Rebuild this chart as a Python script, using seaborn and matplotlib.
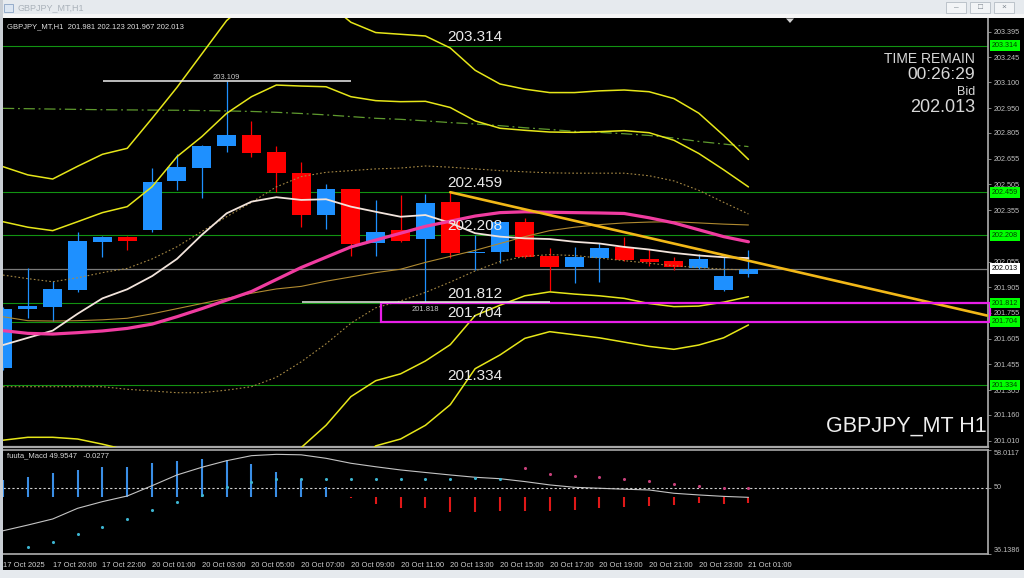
import numpy as np
import pandas as pd
import seaborn as sns
import matplotlib.pyplot as plt
import matplotlib.transforms as mtrans
from matplotlib.patches import Rectangle, Polygon

# ---- values, 17 Oct 18:00 .. 21 Oct 01:00 ----
opens = [201.432, 201.776, 201.788, 201.887, 202.169, 202.198, 202.239, 202.524, 202.602, 202.729,
         202.791, 202.695, 202.569, 202.328, 202.478, 202.163, 202.236, 202.185, 202.404, 202.105,
         202.112, 202.287, 202.087, 202.021, 202.077, 202.138, 202.069, 202.058, 202.019, 201.889, 201.981]
highs = [201.790, 202.015, 201.943, 202.225, 202.205, 202.205, 202.598, 202.682, 202.735, 203.109,
         202.874, 202.729, 202.637, 202.507, 202.480, 202.414, 202.443, 202.450, 202.459, 202.210,
         202.290, 202.307, 202.132, 202.138, 202.160, 202.196, 202.126, 202.083, 202.097, 202.083, 202.123]
lows = [201.420, 201.724, 201.710, 201.876, 202.083, 202.122, 202.229, 202.472, 202.427, 202.695,
        202.666, 202.462, 202.258, 202.243, 202.087, 202.087, 202.170, 201.818, 202.074, 202.005,
        202.045, 202.078, 201.885, 201.931, 201.937, 202.060, 202.029, 202.005, 202.010, 201.885, 201.967]
closes = [201.776, 201.795, 201.893, 202.173, 202.200, 202.172, 202.519, 202.604, 202.730, 202.791,
          202.689, 202.569, 202.328, 202.478, 202.157, 202.227, 202.177, 202.398, 202.103, 202.110,
          202.283, 202.083, 202.021, 202.083, 202.136, 202.064, 202.052, 202.021, 202.069, 201.971, 202.013]

ma_white = [201.568, 201.610, 201.652, 201.750, 201.840, 201.893, 201.970, 202.070, 202.210, 202.336,
            202.404, 202.430, 202.414, 202.418, 202.375, 202.345, 202.316, 202.326, 202.280, 202.220,
            202.200, 202.190, 202.186, 202.170, 202.160, 202.140, 202.125, 202.105, 202.090, 202.080, 202.075]
ma_pink = [201.652, 201.636, 201.632, 201.640, 201.650, 201.665, 201.690, 201.733, 201.780, 201.830,
           201.880, 201.950, 202.020, 202.080, 202.140, 202.180, 202.220, 202.260, 202.290, 202.320,
           202.340, 202.345, 202.342, 202.340, 202.338, 202.335, 202.310, 202.280, 202.240, 202.200, 202.170]
ma_tan = [201.733, 201.710, 201.708, 201.710, 201.715, 201.724, 201.750, 201.780, 201.810, 201.840,
          201.870, 201.895, 201.910, 201.940, 201.965, 201.990, 202.010, 202.050, 202.085, 202.120,
          202.160, 202.200, 202.235, 202.255, 202.270, 202.280, 202.285, 202.287, 202.280, 202.273, 202.268]
band_up1 = [201.976, 201.955, 201.937, 201.960, 201.990, 202.015, 202.070, 202.141, 202.230, 202.316,
            202.400, 202.490, 202.550, 202.575, 202.585, 202.595, 202.600, 202.612, 202.605, 202.595,
            202.585, 202.578, 202.572, 202.570, 202.570, 202.570, 202.555, 202.525, 202.470, 202.400, 202.332]
band_dn1 = [201.325, 201.325, 201.325, 201.325, 201.325, 201.310, 201.300, 201.290, 201.290, 201.305,
            201.325, 201.380, 201.470, 201.575, 201.695, 201.785, 201.825, 201.875, 201.935, 202.000,
            202.055, 202.085, 202.095, 202.090, 202.075, 202.060, 202.045, 202.030, 202.020, 202.010, 202.006]
band_up2 = [202.287, 202.255, 202.235, 202.287, 202.340, 202.375, 202.491, 202.666, 202.783, 202.919,
            203.016, 203.084, 203.078, 203.074, 203.016, 202.993, 202.987, 202.989, 202.953, 202.875,
            202.832, 202.820, 202.810, 202.808, 202.812, 202.818, 202.806, 202.762, 202.685, 202.590, 202.490]
band_dn2 = [201.013, 201.030, 201.030, 201.020, 200.990, 200.955, 200.890, 200.800, 200.780, 200.740,
            200.745, 200.820, 200.970, 201.100, 201.267, 201.360, 201.400, 201.475, 201.570, 201.740,
            201.800, 201.855, 201.878, 201.865, 201.855, 201.840, 201.810, 201.792, 201.795, 201.818, 201.850]
band_up3 = [202.608, 202.560, 202.536, 202.610, 202.680, 202.715, 202.890, 203.070, 203.265, 203.460,
            203.584, 203.650, 203.600, 203.570, 203.450, 203.390, 203.380, 203.370, 203.300, 203.170,
            203.090, 203.060, 203.040, 203.040, 203.050, 203.055, 203.045, 203.005, 202.920, 202.790, 202.650]
band_dn3 = [200.680, 200.720, 200.740, 200.670, 200.620, 200.600, 200.490, 200.330, 200.280, 200.200,
            200.180, 200.250, 200.440, 200.590, 200.830, 200.980, 201.020, 201.100, 201.220, 201.430,
            201.510, 201.607, 201.646, 201.628, 201.610, 201.585, 201.560, 201.543, 201.568, 201.610, 201.685]
ma_long = [202.948, 202.946, 202.944, 202.942, 202.940, 202.939, 202.938, 202.937, 202.935, 202.933,
           202.930, 202.925, 202.918, 202.910, 202.900, 202.890, 202.884, 202.875, 202.865, 202.857,
           202.847, 202.835, 202.825, 202.814, 202.808, 202.800, 202.790, 202.775, 202.755, 202.740, 202.725]

levels = [203.314, 202.459, 202.208, 201.812, 201.704, 201.334]
bid = 202.013
trend_bars = [18, 39.6]
trend_prices = [202.459, 201.740]

# oscillator sub-window (fuuta_Macd)
osc_line = [41.0, 42.2, 43.47, 45.7, 47.1, 48.28, 50.44, 52.68, 54.29, 55.67,
            56.72, 57.0, 56.9, 56.17, 55.13, 54.4, 53.73, 53.2, 52.68, 52.2,
            51.9, 51.3, 50.6, 50.1, 49.9, 49.7, 49.54, 48.85, 48.5, 48.2, 48.0]
osc_hist = [51.63, 52.32, 53.03, 53.73, 54.29, 54.29, 55.26, 55.61, 55.96, 55.82,
            54.98, 53.37, 51.63, 50.23, 47.95, 46.6, 45.7, 45.7, 45.0, 45.0,
            45.2, 45.2, 45.2, 45.35, 45.84, 46.05, 46.26, 46.4, 46.75, 46.6, 46.88]
hist_base = 48.1
cyan_dot_bars = list(range(1, 21))
cyan_dots = [37.55, 38.6, 40.27, 41.86, 43.4, 45.35, 46.97, 48.5, 50.2, 51.28,
             51.84, 51.78, 51.78, 51.8, 51.8, 51.8, 51.8, 51.8, 51.98, 51.8]
pink_dot_bars = list(range(21, 31))
pink_dots = [54.08, 52.89, 52.47, 52.2, 51.78, 51.42, 50.8, 50.44, 50.02, 49.9]

price_ticks = [203.395, 203.245, 203.100, 202.950, 202.805, 202.655, 202.505, 202.355,
               202.055, 201.905, 201.755, 201.605, 201.455, 201.305, 201.160, 201.010]
time_tick_bars = list(range(0, 31, 2))
time_labels = ["17 Oct 2025", "17 Oct 20:00", "17 Oct 22:00", "20 Oct 01:00", "20 Oct 03:00",
               "20 Oct 05:00", "20 Oct 07:00", "20 Oct 09:00", "20 Oct 11:00", "20 Oct 13:00",
               "20 Oct 15:00", "20 Oct 17:00", "20 Oct 19:00", "20 Oct 21:00", "20 Oct 23:00",
               "21 Oct 01:00"]

bars = np.arange(len(opens))
df = pd.DataFrame({"bar": bars, "white": ma_white, "pink": ma_pink, "tan": ma_tan,
                   "up1": band_up1, "dn1": band_dn1, "up2": band_up2, "dn2": band_dn2,
                   "up3": band_up3, "dn3": band_dn3, "long": ma_long, "osc": osc_line})

sns.set_theme(style="dark", rc={"axes.facecolor": "black", "figure.facecolor": "black"})
plt.rcParams['font.family'] = ['Liberation Sans', 'DejaVu Sans']

W, H = 1024, 578
fig = plt.figure(figsize=(W / 100, H / 100), dpi=100)
ax = fig.add_axes([3 / W, 1 - 447 / H, 985 / W, 430 / H])
ax2 = fig.add_axes([3 / W, 1 - 554 / H, 985 / W, 104.5 / H])
XMAX = 39.64

# ---------------- main price window ----------------
for lv in levels:
    ax.axhline(lv, color="#129212", lw=0.8, zorder=1)
ax.axhline(bid, color="#7a7a7a", lw=0.9, zorder=1)

up = np.array(closes) >= np.array(opens)
col = np.where(up, "#1e90ff", "#ff0000")
ax.vlines(bars, lows, highs, colors=col, lw=0.9, zorder=2)
body_lo = np.minimum(opens, closes)
body_h = np.maximum(np.abs(np.array(closes) - np.array(opens)), 0.004)
ax.bar(bars, body_h, bottom=body_lo, width=0.76, color=col, linewidth=0, zorder=2)

line_specs = [
    ("long", "#5f9a2e", 0.9, (0, (9, 3, 1.5, 3))),
    ("up1", "#a88a45", 0.8, (0, (1.5, 2))),
    ("dn1", "#a88a45", 0.8, (0, (1.5, 2))),
    ("tan", "#b08a30", 0.8, "-"),
    ("up2", "#e6e619", 1.1, "-"),
    ("dn2", "#e6e619", 1.1, "-"),
    ("up3", "#e6e619", 1.1, "-"),
    ("dn3", "#e6e619", 1.1, "-"),
    ("white", "#f2e4dc", 1.3, "-"),
    ("pink", "#f03ca0", 2.3, "-"),
]
for name, c, w, ls in line_specs:
    sns.lineplot(data=df, x="bar", y=name, ax=ax, color=c, lw=w, linestyle=ls, zorder=3)

sns.lineplot(x=trend_bars, y=trend_prices, ax=ax, color="#f2b818", lw=1.9, zorder=4)

# range box and marked highs/lows
ax.add_patch(Rectangle((15.2, levels[4]), XMAX + 0.1 - 15.2, levels[3] - levels[4],
                       fill=False, ec="#e81ee8", lw=1.6, zorder=4, clip_on=False))
ax.hlines(highs[9], 4.02, 14.0, color="#f0f0f0", lw=1.1, zorder=4)
ax.text(9, highs[9], "203.109", color="#c8c8c8", fontsize=5.5, ha="center", va="bottom", zorder=5)
ax.hlines(lows[17], 12.03, 22.0, color="#e8f0e4", lw=1.1, zorder=4)
ax.annotate("201.818", (17, lows[17]), xytext=(0, -2.5), textcoords="offset points",
            color="#c8c8c8", fontsize=5.5, ha="center", va="top", zorder=5)

for lv in levels:
    ax.annotate(f"{lv:.3f}", (17.87, lv), xytext=(0, 1.5), textcoords="offset points",
                color="#eaeaea", fontsize=11, ha="left", va="bottom", zorder=6)

ax.set_xlim(0, XMAX)
ax.set_ylim(200.9734, 203.4807)
ax.set_xlabel("")
ax.set_ylabel("")
ax.set_xticks([])
ax.yaxis.tick_right()
ax.set_yticks(price_ticks)
ax.set_yticklabels([f"{t:.3f}" for t in price_ticks])
ax.tick_params(axis="y", colors="#9a9a9a", labelcolor="#c0c0c0", labelsize=5.2,
               length=2.5, width=0.6, pad=1.5, direction="out")
for s in ["left", "top"]:
    ax.spines[s].set_visible(False)
ax.spines["right"].set_color("#a8a8a8")
ax.spines["bottom"].set_color("#a8a8a8")
ax.spines["bottom"].set_linewidth(1.6)

tr = mtrans.blended_transform_factory(ax.transAxes, ax.transData)
for lv in levels:
    ax.text(1.004, lv, f"{lv:.3f}", transform=tr, fontsize=5.2, color="#004000",
            ha="left", va="center", clip_on=False, zorder=7,
            bbox=dict(boxstyle="square,pad=0.25", fc="#00ff00", ec="none"))
ax.text(1.004, bid, f"{bid:.3f}", transform=tr, fontsize=5.2, color="black",
        ha="left", va="center", clip_on=False, zorder=7,
        bbox=dict(boxstyle="square,pad=0.25", fc="white", ec="none"))

ax.text(0.004, 0.985, "GBPJPY_MT,H1  201.981 202.123 201.967 202.013", transform=ax.transAxes,
        color="#e0e0e0", fontsize=5.5, ha="left", va="top")
info_x = 0.9868
ax.text(info_x, 0.903, "TIME REMAIN", transform=ax.transAxes, color="#d8d8d8", fontsize=10,
        ha="right", va="center")
ax.text(info_x, 0.8665, "00:26:29", transform=ax.transAxes, color="#d8d8d8", fontsize=12.5,
        ha="right", va="center")
ax.text(info_x, 0.8265, "Bid", transform=ax.transAxes, color="#d8d8d8", fontsize=9,
        ha="right", va="center")
ax.text(info_x, 0.790, "202.013", transform=ax.transAxes, color="#d8d8d8", fontsize=13,
        ha="right", va="center")
ax.text(0.9985, 0.025, "GBPJPY_MT H1", transform=ax.transAxes, color="#eeeeee", fontsize=15.5,
        ha="right", va="bottom")

# ---------------- oscillator window ----------------
ax2.axhline(50, color="#d0d0d0", lw=0.8, linestyle=(0, (2, 2)), zorder=1)
hcol = np.where(np.array(osc_hist) >= hist_base, "#3a8ee6", "#e01818")
ax2.vlines(bars, hist_base, osc_hist, colors=hcol, lw=1.5, zorder=2)
sns.lineplot(data=df, x="bar", y="osc", ax=ax2, color="#c4c4c4", lw=0.8, zorder=3)
sns.scatterplot(x=cyan_dot_bars, y=cyan_dots, ax=ax2, color="#3cb4d0", s=5, linewidth=0, zorder=4)
sns.scatterplot(x=pink_dot_bars, y=pink_dots, ax=ax2, color="#c8407a", s=5, linewidth=0, zorder=4)
ax2.text(0.004, 0.97, "fuuta_Macd 49.9547   -0.0277", transform=ax2.transAxes,
         color="#d8d8d8", fontsize=5.5, ha="left", va="top")

ax2.set_xlim(0, XMAX)
ax2.set_ylim(36.1386, 58.0117)
ax2.set_xlabel("")
ax2.set_ylabel("")
ax2.yaxis.tick_right()
ax2.set_yticks([58.0117, 50, 36.1386])
ax2.set_yticklabels(["58.0117", "50", "36.1386"])
for lbl, va in zip(ax2.get_yticklabels(), ["top", "center", "bottom"]):
    lbl.set_va(va)
ax2.set_xticks(time_tick_bars)
ax2.set_xticklabels(time_labels)
shift = mtrans.ScaledTranslation(2 / 100, 0, fig.dpi_scale_trans)
for lbl in ax2.get_xticklabels():
    lbl.set_ha("left")
    lbl.set_transform(lbl.get_transform() + shift)
ax2.tick_params(axis="y", colors="#9a9a9a", labelcolor="#c0c0c0", labelsize=5.2,
                length=2.5, width=0.6, pad=1.5, direction="out")
ax2.tick_params(axis="x", colors="#9a9a9a", labelcolor="#d0d0d0", labelsize=5.5,
                length=3, width=0.6, pad=2.5, direction="out")
ax2.spines["left"].set_visible(False)
for s in ["right", "top", "bottom"]:
    ax2.spines[s].set_color("#a8a8a8")
ax2.spines["top"].set_linewidth(1.2)

# ---------------- terminal window frame ----------------
def px(x, y):
    return (x / W, 1 - y / H)

frame = [
    Rectangle(px(0, 14), 1, 14 / H, fc="#e6eaee", ec="none"),
    Rectangle(px(0, 17.5), 1, 3.5 / H, fc="#f6f6f6", ec="none"),
    Rectangle(px(0, 578), 3 / W, 1, fc="#c9ced4", ec="none"),
    Rectangle(px(0, 578), 1, 8 / H, fc="#e6eaee", ec="none"),
]
for p in frame:
    p.set_transform(fig.transFigure)
    fig.add_artist(p)
fig.text(*px(17, 7.5), "GBPJPY_MT,H1", color="#aab2ba", fontsize=6.5, va="center", ha="left")
icon = Rectangle(px(4, 12), 9 / W, 8 / H, fc="#dce6f2", ec="#8aa4c4", lw=0.6, transform=fig.transFigure)
fig.add_artist(icon)
for bx, glyph in zip([946, 970, 994], ["\u2013", "\u25a1", "\u00d7"]):
    b = Rectangle(px(bx, 12.5), 20 / W, 10 / H, fc="#f2f4f6", ec="#b4bcc4", lw=0.6,
                  transform=fig.transFigure)
    fig.add_artist(b)
    fig.text(*px(bx + 10, 7.5), glyph, color="#7a838c", fontsize=6, ha="center", va="center")
tri = Polygon([px(786, 18.5), px(794, 18.5), px(790, 23)], closed=True, fc="#d0d0d0", ec="none",
              transform=fig.transFigure)
fig.add_artist(tri)

fig.savefig("out.png", dpi=100, facecolor=fig.get_facecolor())
